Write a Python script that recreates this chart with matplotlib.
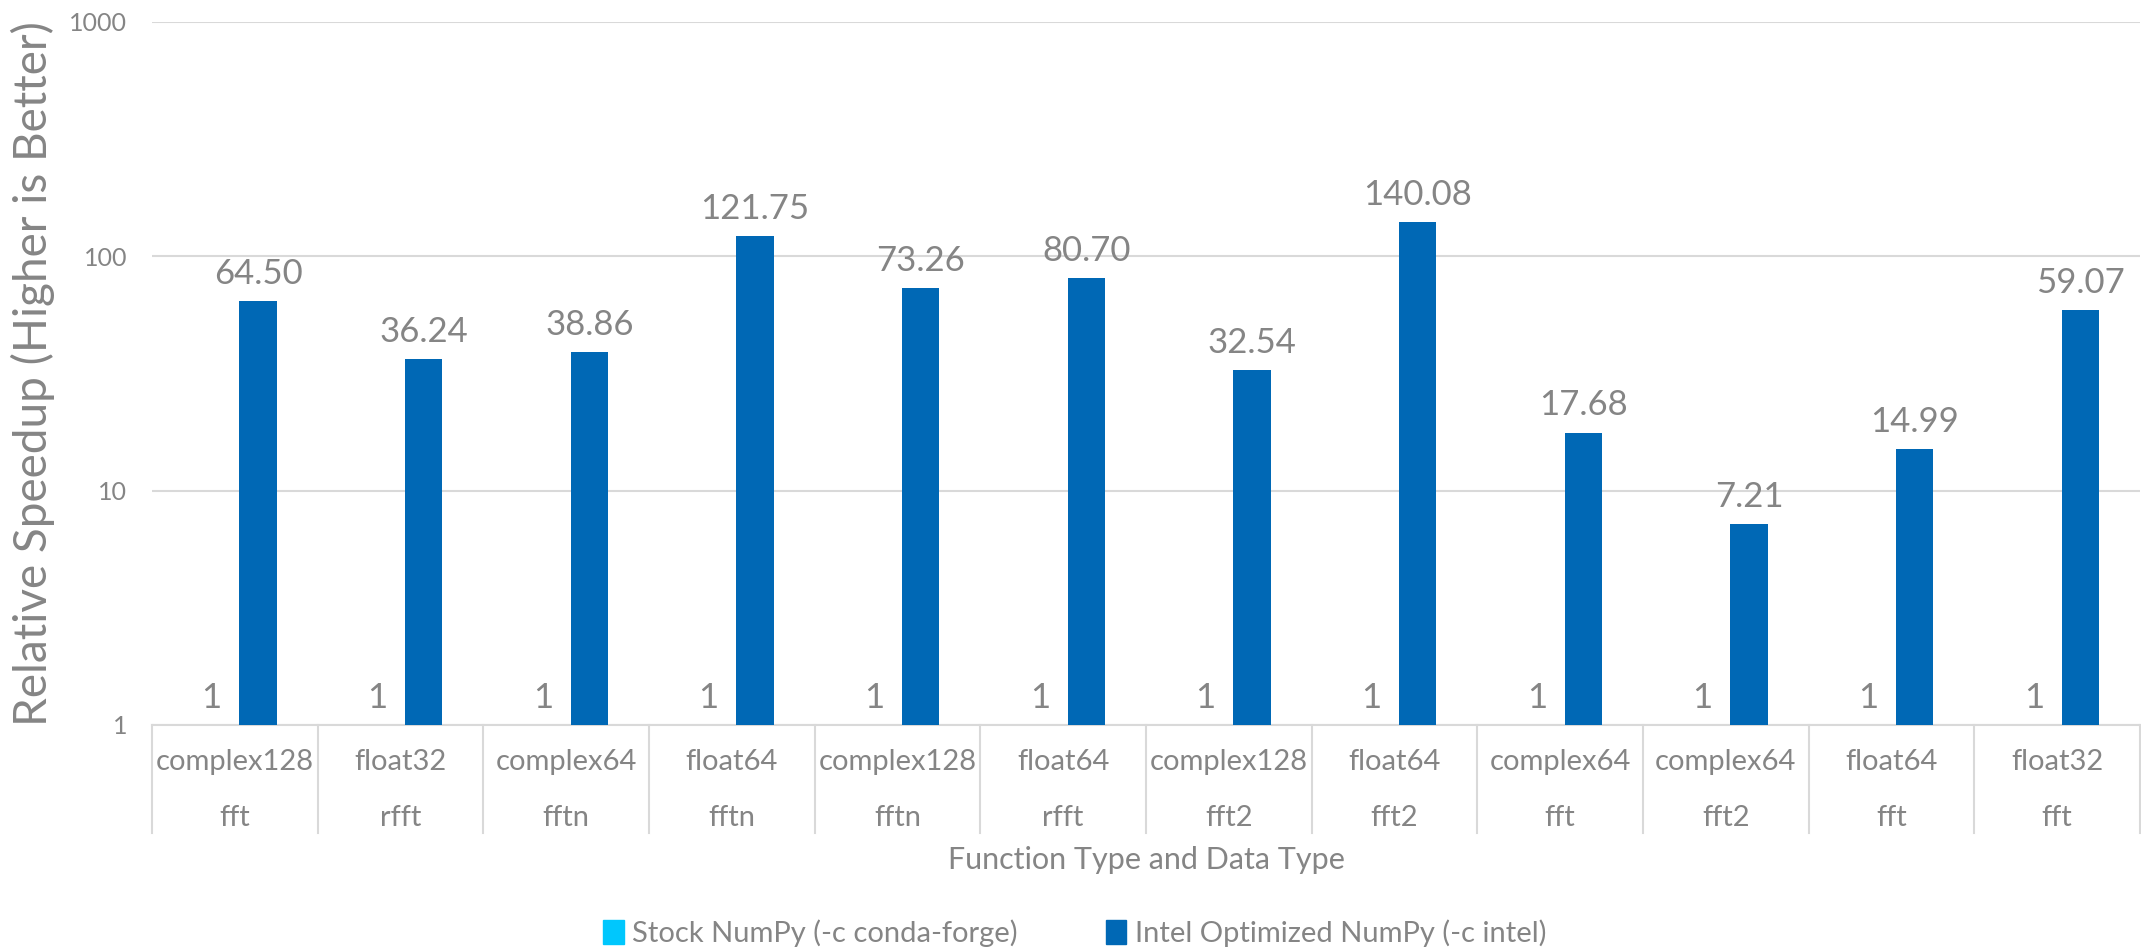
import matplotlib
matplotlib.use("Agg")
import matplotlib.pyplot as plt
import matplotlib.transforms as mtransforms
from matplotlib.patches import Patch
import numpy as np

plt.rcParams['font.family'] = ['Lato', 'DejaVu Sans']

dtypes = ['complex128', 'float32', 'complex64', 'float64', 'complex128', 'float64',
          'complex128', 'float64', 'complex64', 'complex64', 'float64', 'float32']
funcs = ['fft', 'rfft', 'fftn', 'fftn', 'fftn', 'rfft',
         'fft2', 'fft2', 'fft', 'fft2', 'fft', 'fft']
stock = [1, 1, 1, 1, 1, 1, 1, 1, 1, 1, 1, 1]
intel = [64.50, 36.24, 38.86, 121.75, 73.26, 80.70, 32.54, 140.08, 17.68, 7.21, 14.99, 59.07]

GREY = '#858585'
GRID = '#d9d9d9'
STOCK_C = '#00c7fd'
INTEL_C = '#0068b5'

fig = plt.figure(figsize=(21.41, 9.5), dpi=100)
ax = fig.add_axes([0.071, 0.237, 0.9285, 0.74])

x = np.arange(len(dtypes))
w = 0.225
off = 0.14
ax.bar(x - off, stock, w, color=STOCK_C, zorder=3)
ax.bar(x + off, intel, w, color=INTEL_C, zorder=3)

ax.set_yscale('log')
ax.set_ylim(1, 1000)
ax.set_xlim(-0.5, len(dtypes) - 0.5)
ax.set_yticks([1, 10, 100, 1000])
ax.set_yticklabels(['1', '10', '100', '1000'])
ax.minorticks_off()
ax.tick_params(axis='y', length=0, pad=18, labelsize=18, labelcolor=GREY)
ax.set_xticks([])
ax.grid(axis='y', color=GRID, linewidth=1.5, zorder=0)
for s in ['top', 'right', 'left']:
    ax.spines[s].set_visible(False)
ax.spines['bottom'].set_color(GRID)
ax.spines['bottom'].set_linewidth(1.5)

# value labels
for xi, v in zip(x, stock):
    ax.annotate(f'{v:g}', (xi - off, v), xytext=(0, 8), textcoords='offset points',
                ha='center', va='bottom', fontsize=25, color=GREY)
for xi, v in zip(x, intel):
    ax.annotate(f'{v:.2f}', (xi + off, v), xytext=(0, 8), textcoords='offset points',
                ha='center', va='bottom', fontsize=25, color=GREY)

# two-row category axis with separators
trans = mtransforms.blended_transform_factory(ax.transData, ax.transAxes)
for b in np.arange(-0.5, len(dtypes)):
    ax.plot([b, b], [0, -0.154], transform=trans, color=GRID, linewidth=1.5, clip_on=False)
for xi, d, f in zip(x, dtypes, funcs):
    ax.text(xi, -0.053, d, transform=trans, ha='center', va='center',
            fontsize=21, color=GREY)
    ax.text(xi, -0.132, f, transform=trans, ha='center', va='center',
            fontsize=21, color=GREY)

ax.text(0.5, -0.192, 'Function Type and Data Type', transform=ax.transAxes,
        ha='center', va='center', fontsize=22, color=GREY)
ax.set_ylabel('Relative Speedup (Higher is Better)', fontsize=33, color=GREY,
              labelpad=10)

handles = [Patch(color=STOCK_C, label='Stock NumPy (-c conda-forge)'),
           Patch(color=INTEL_C, label='Intel Optimized NumPy (-c intel)')]
leg = fig.legend(handles=handles, loc='center', bbox_to_anchor=(0.502, 0.018), ncol=2,
                 frameon=False, fontsize=21, handlelength=0.7, handleheight=0.9,
                 handletextpad=0.3, columnspacing=3.0)
for t in leg.get_texts():
    t.set_color(GREY)

fig.savefig('out.png', dpi=100)
